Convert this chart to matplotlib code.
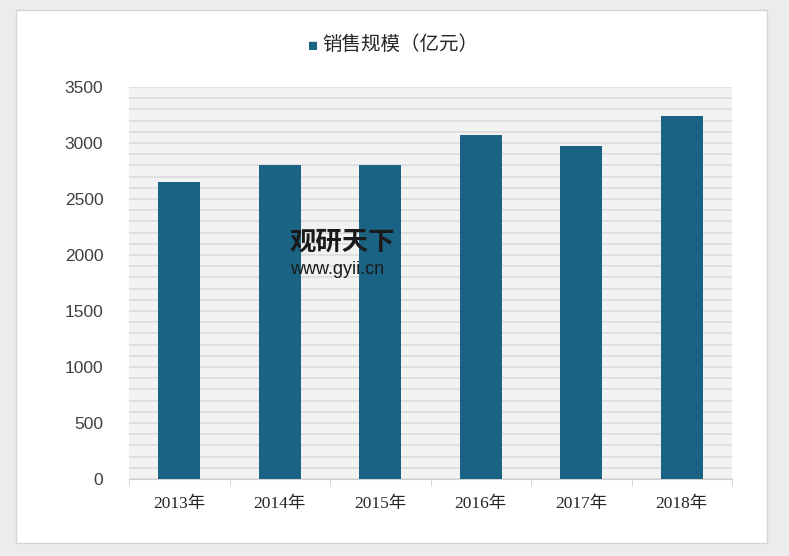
import numpy as np
import matplotlib.pyplot as plt
from matplotlib.patches import Rectangle

plt.rcParams['font.family'] = ['Liberation Sans', 'Noto Sans CJK SC']

# data
years = ['2013年', '2014年', '2015年', '2016年', '2017年', '2018年']
sales = [2650, 2800, 2800, 3070, 2970, 3240]
series_name = '销售规模（亿元）'

bar_color = '#1b6385'
W, H = 789, 556

fig = plt.figure(figsize=(W / 100, H / 100), dpi=100, facecolor='#ececec')
# white card with a faint border
fig.patches.append(Rectangle((16 / W, 1 - 543 / H), (767 - 16) / W, (543 - 10) / H,
                             transform=fig.transFigure, facecolor='white',
                             edgecolor='#d4d4d4', linewidth=1, zorder=-5))

ax = fig.add_axes([129 / W, 1 - 479 / H, (732 - 129) / W, (479 - 87) / H])
ax.set_facecolor('#f2f2f2')

x = np.arange(len(years))
ax.bar(x, sales, width=0.42, color=bar_color, zorder=3)

ax.set_xlim(-0.5, len(years) - 0.5)
ax.set_ylim(0, 3500)
ax.set_yticks(np.arange(0, 3501, 500))
ax.set_yticks(np.arange(0, 3501, 100), minor=True)
ax.yaxis.grid(True, which='both', color='#dcdcdc', linewidth=1.2, zorder=0)
ax.set_axisbelow(True)
ax.tick_params(axis='y', which='both', length=0, labelsize=12.5, colors='#404040', pad=18.5)

ax.set_xticks(x)
ax.set_xticklabels(years, family=['Liberation Serif', 'Noto Sans CJK SC'],
                   fontsize=12.5, color='#262626')
ax.set_xticks(np.arange(-0.5, len(years)), minor=True)
ax.tick_params(axis='x', which='major', length=0, pad=12)
ax.tick_params(axis='x', which='minor', length=5, color='#d0d0d0')

for s in ['top', 'right', 'left']:
    ax.spines[s].set_visible(False)
ax.spines['bottom'].set_color('#d0d0d0')

# legend at top
fig.text(313 / W, 1 - 46 / H, '■', color=bar_color, fontsize=12, va='center', ha='center')
fig.text(322 / W, 1 - 45 / H, series_name, color='#262626', fontsize=14, va='center', ha='left')

# watermark
fig.text(290 / W, 1 - 243 / H, '观研天下', fontsize=19, fontweight='bold',
         color='#1a1a1a', va='center', ha='left')
fig.text(290 / W, 1 - 270 / H, 'www.gyii.cn', fontsize=13, color='#1a1a1a',
         va='center', ha='left')

fig.savefig('out.png', dpi=100, facecolor=fig.get_facecolor())
